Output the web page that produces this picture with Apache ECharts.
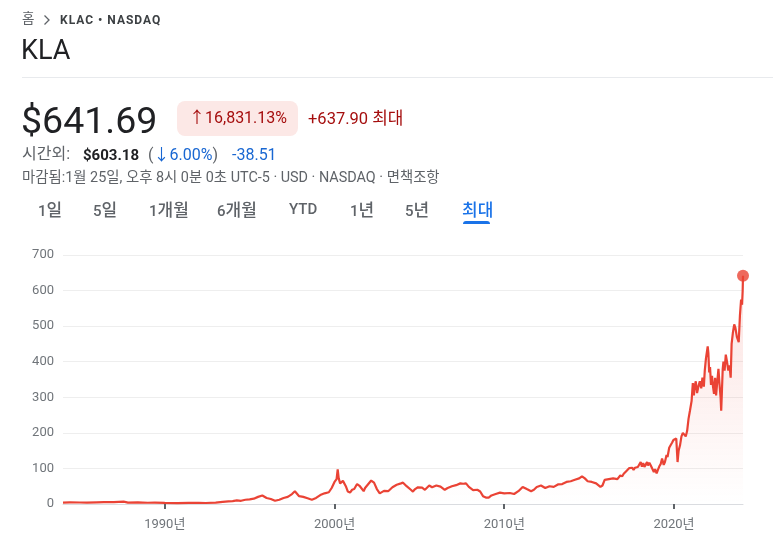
<!DOCTYPE html>
<html><head><meta charset="utf-8">
<script src="https://cdn.jsdelivr.net/npm/echarts@6/dist/echarts.min.js"></script>
<style>
body{margin:0;width:773px;height:541px;background:#fff;font-family:Roboto,"Noto Sans CJK KR",sans-serif;position:relative;overflow:hidden}
#chart{position:absolute;left:0;top:0;width:773px;height:541px}
.a{position:absolute;white-space:nowrap;line-height:1}
.tab{position:absolute;top:202px;font-size:15px;font-weight:500;color:#5f6368;line-height:1;white-space:nowrap}
.tab .k{font-size:17px}
</style></head><body>
<div id="chart"></div>
<div class="a" style="left:22px;top:12px;font-size:13.5px;color:#5f6368">홈</div>
<svg class="a" style="left:43px;top:14px" width="8" height="12"><polyline points="1.5,1.5 6,6 1.5,10.5" fill="none" stroke="#5f6368" stroke-width="1.3"/></svg>
<div class="a" style="left:60px;top:14px;font-size:12px;font-weight:700;color:#3c4043;letter-spacing:1px">KLAC • NASDAQ</div>
<div class="a" style="left:21px;top:37px;font-size:27px;color:#202124">KLA</div>
<div class="a" style="left:22px;right:0;top:77px;height:1px;background:#e8eaed"></div>
<div class="a" style="left:21px;top:102px;font-size:37.5px;color:#202124">$641.69</div>
<div class="a" style="left:177px;top:101px;width:121px;height:35px;border-radius:8px;background:#fce8e6"></div>
<div class="a" style="left:189px;top:110px;font-size:16px;color:#a50e0e">↑16,831.13%</div>
<div class="a" style="left:308px;top:110px;font-size:16.5px;color:#a50e0e">+637.90 <span style="font-size:17px">최대</span></div>
<div class="a" style="left:22px;top:146px;font-size:16px;color:#5f6368">시간외:</div>
<div class="a" style="left:83px;top:148px;font-size:15px;font-weight:700;color:#202124">$603.18</div>
<div class="a" style="left:148px;top:147px;font-size:16px;color:#5f6368">(<span style="color:#1967d2">↓6.00%</span>)</div>
<div class="a" style="left:232px;top:147px;font-size:16px;color:#1967d2">-38.51</div>
<div class="a" style="left:22px;top:171px;font-size:14.4px;color:#5f6368">마감됨:1월 25일, 오후 8시 0분 0초 UTC-5 · USD · NASDAQ · 면책조항</div>
<div class="tab" style="left:38px">1<span class="k">일</span></div>
<div class="tab" style="left:93px">5<span class="k">일</span></div>
<div class="tab" style="left:149px">1<span class="k">개월</span></div>
<div class="tab" style="left:217px">6<span class="k">개월</span></div>
<div class="tab" style="left:289px">YTD</div>
<div class="tab" style="left:350px">1<span class="k">년</span></div>
<div class="tab" style="left:405px">5<span class="k">년</span></div>
<div class="tab" style="left:462px;color:#1a73e8"><span class="k">최대</span></div>
<div class="a" style="left:463px;top:221px;width:27px;height:3px;border-radius:3px 3px 0 0;background:#1a73e8"></div>
<script>
const dates = [
'1984-01-03','1984-06-01','1985-01-01','1985-06-01','1986-01-01','1986-06-01','1987-01-01','1987-08-01','1987-11-01','1988-06-01',
'1989-01-01','1989-06-01','1990-01-01','1990-10-01','1991-06-01','1992-01-01','1992-06-01','1993-01-01','1993-06-01','1993-10-01',
'1994-01-01','1994-04-01','1994-07-01','1994-10-01','1995-01-01','1995-04-01','1995-07-01','1995-10-01','1996-01-01','1996-04-01',
'1996-07-01','1996-10-01','1997-01-01','1997-04-01','1997-07-01','1997-09-01','1997-12-01','1998-03-01','1998-06-01','1998-09-01',
'1998-12-01','1999-03-01','1999-06-01','1999-09-01','1999-11-01','2000-01-01','2000-02-15','2000-03-10','2000-04-01','2000-05-01',
'2000-07-01','2000-09-01','2000-10-15','2000-12-01','2001-01-15','2001-03-01','2001-05-01','2001-07-01','2001-09-20','2001-10-20',
'2001-12-01','2002-03-01','2002-05-01','2002-07-01','2002-09-01','2002-10-10','2002-12-01','2003-03-01','2003-06-01','2003-09-01',
'2003-12-01','2004-01-15','2004-04-01','2004-07-01','2004-08-15','2004-10-01','2004-12-01','2005-03-01','2005-05-01','2005-08-01',
'2005-10-01','2006-01-01','2006-04-01','2006-07-01','2006-09-01','2006-12-01','2007-03-01','2007-06-01','2007-08-01','2007-10-01',
'2007-12-01','2008-03-01','2008-06-01','2008-08-01','2008-10-01','2008-12-01','2009-02-01','2009-04-01','2009-07-01','2009-10-01',
'2010-01-01','2010-05-01','2010-08-01','2010-11-01','2011-02-01','2011-05-01','2011-08-01','2011-10-01','2011-12-01','2012-03-01',
'2012-06-01','2012-09-01','2012-12-01','2013-03-01','2013-06-01','2013-09-01','2013-12-01','2014-03-01','2014-06-01','2014-08-01',
'2014-10-01','2014-12-01','2015-03-01','2015-06-01','2015-09-01','2015-10-15','2015-12-01','2016-03-01','2016-06-01','2016-09-01',
'2016-11-01','2016-12-15','2017-01-15','2017-02-15','2017-03-15','2017-04-15','2017-05-15','2017-06-15','2017-07-15','2017-08-15',
'2017-09-15','2017-10-15','2017-11-15','2017-12-15','2018-01-15','2018-02-10','2018-03-10','2018-04-05','2018-05-01','2018-06-01',
'2018-06-20','2018-07-20','2018-08-20','2018-09-20','2018-10-25','2018-11-20','2018-12-24','2019-01-20','2019-02-20','2019-03-20',
'2019-04-20','2019-05-25','2019-06-20','2019-07-25','2019-08-15','2019-09-20','2019-10-20','2019-11-20','2019-12-20','2020-01-20',
'2020-02-19','2020-03-18','2020-04-10','2020-05-10','2020-06-10','2020-07-10','2020-08-10','2020-09-10','2020-10-10','2020-11-10',
'2020-12-10','2021-01-15','2021-02-10','2021-03-05','2021-03-20','2021-04-15','2021-05-12','2021-06-10','2021-07-10','2021-08-10',
'2021-09-05','2021-10-05','2021-10-25','2021-11-20','2021-12-27','2022-01-10','2022-01-28','2022-02-15','2022-03-08','2022-03-30',
'2022-04-20','2022-05-12','2022-06-05','2022-06-25','2022-07-25','2022-08-15','2022-09-05','2022-09-30','2022-10-13','2022-10-28',
'2022-11-15','2022-12-01','2022-12-25','2023-01-20','2023-02-15','2023-03-15','2023-04-10','2023-05-05','2023-05-25','2023-06-20',
'2023-07-20','2023-08-15','2023-09-15','2023-10-25','2023-11-20','2023-12-15','2024-01-05','2024-01-18','2024-01-25'
];
const prices = [
3.8,4.5,4.2,3.8,4.5,5.0,5.5,6.5,4.0,4.5,
3.5,4.0,3.2,2.2,3.0,3.5,2.8,4.0,6.0,7.5,
8,10,9,12,13,15,20,24,17,14,
9,12,17,20,28,36,22,20,16,12,
17,25,30,33,45,62,70,97,72,58,
65,50,35,32,40,42,56,50,36,45,
50,66,60,42,30,32,37,36,47,54,
58,60,50,40,35,42,47,46,40,52,
47,52,49,40,45,50,53,58,57,58,
48,39,40,35,22,18,18,24,28,32,
30,31,28,36,48,42,36,40,48,52,
45,50,48,55,56,62,64,68,72,78,
72,64,62,58,48,52,68,70,72,70,
80,78,85,88,93,95,101,97,102,96,
102,107,104,106,118,105,115,104,110,118,
108,116,108,103,90,98,86,96,106,112,
128,110,118,138,132,158,165,172,180,176,
184,118,150,165,190,200,205,190,205,240,
262,290,340,305,330,345,312,330,345,325,
355,330,375,410,443,425,370,385,335,360,
330,310,355,305,350,380,340,300,262,315,
380,400,375,420,400,375,390,355,450,480,
505,495,470,455,530,575,560,600,641.69
];
const yTicks = [0,100,200,300,400,500,600,700];
const xTickYears = [1990,2000,2010,2020];

// convert a date string to a fractional year for the value axis
const toYear = s => {
  const p = s.split('-').map(Number);
  const start = Date.UTC(p[0],0,1), end = Date.UTC(p[0]+1,0,1);
  return p[0] + (Date.UTC(p[0],p[1]-1,p[2]) - start) / (end - start);
};
const xs = dates.map(toYear);
const lineData = xs.map((x,i)=>[x, prices[i]]);
const chart = echarts.init(document.getElementById('chart'));
chart.setOption({
  animation:false,
  grid:{left:63,right:30,top:255,bottom:37},
  xAxis:{type:'value',min:xs[0],max:xs[xs.length-1],
    axisLine:{show:true,onZero:false,lineStyle:{color:'#dadce0',width:1}},
    axisTick:{show:true,customValues:xTickYears,length:5,lineStyle:{color:'#5f6368',width:2}},
    axisLabel:{customValues:xTickYears,formatter:v=>Math.round(v)+'년',color:'#70757a',fontSize:13,margin:14,fontFamily:'Roboto, "Noto Sans CJK KR"'},
    splitLine:{show:false}},
  yAxis:{type:'value',min:yTicks[0],max:yTicks[yTicks.length-1],interval:100,
    axisLine:{show:false},axisTick:{show:false},
    axisLabel:{color:'#70757a',fontSize:13,margin:9,fontFamily:'Roboto'},
    splitLine:{lineStyle:{color:'#eeeeee',width:1}}},
  series:[
    {type:'line',data:lineData,showSymbol:false,symbol:'none',
     lineStyle:{color:'#ea4335',width:2.2},
     areaStyle:{color:new echarts.graphic.LinearGradient(0,0,0,1,[{offset:0,color:'rgba(234,67,53,0.22)'},{offset:1,color:'rgba(234,67,53,0)'}])}},
    {type:'scatter',data:[lineData[lineData.length-1]],symbolSize:12,itemStyle:{color:'#ea4335'},z:5}
  ]
});
</script>
</body></html>
